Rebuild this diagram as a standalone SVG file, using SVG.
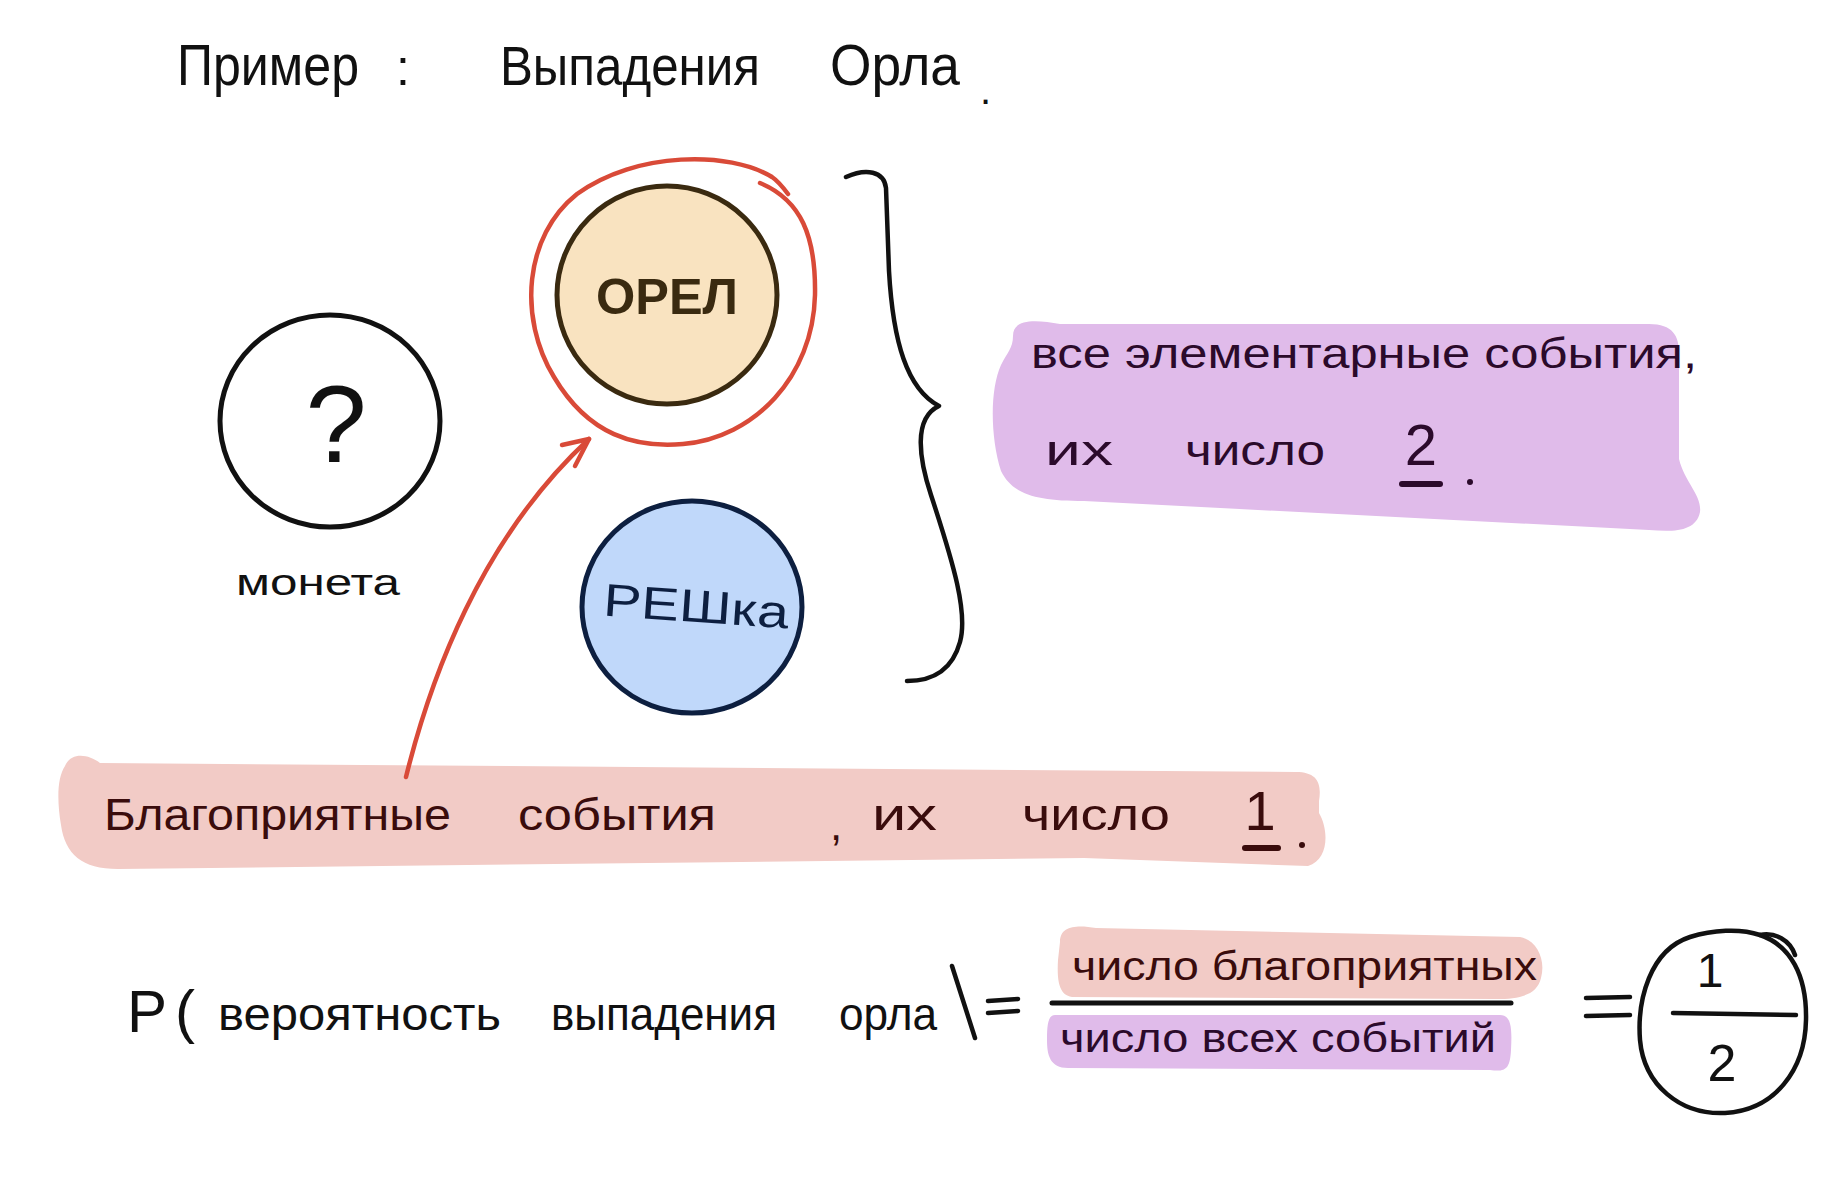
<svg xmlns="http://www.w3.org/2000/svg" width="1847" height="1204" viewBox="0 0 1847 1204">
<style>
.hw{font-family:"Liberation Sans","Noto Sans",sans-serif;fill:#111}
.pt{fill:#2b0a2b}
.rt{fill:#3a0c0c}
.coin{stroke-width:5;stroke-linecap:round}
.ink{fill:none;stroke:#111;stroke-width:4.5;stroke-linecap:round;stroke-linejoin:round}
.red{fill:none;stroke:#d94a38;stroke-width:4.5;stroke-linecap:round;stroke-linejoin:round}
</style>
<rect width="1847" height="1204" fill="#ffffff"/>

<g id="title">
<text class="hw" x="177" y="85" font-size="58" textLength="182" lengthAdjust="spacingAndGlyphs">Пример</text>
<text class="hw" x="396" y="85" font-size="50">:</text>
<text class="hw" x="500" y="85" font-size="56" textLength="260" lengthAdjust="spacingAndGlyphs">Выпадения</text>
<text class="hw" x="830" y="85" font-size="58" textLength="130" lengthAdjust="spacingAndGlyphs">Орла</text>
<text class="hw" x="980" y="104" font-size="40">.</text>
</g>

<g id="highlights">
<path d="M1013,336 C1013,318 1037,320 1060,324 L1649,324 C1673,324 1679,336 1679,353 L1679,459 C1685,483 1702,495 1700,512 C1696,532 1673,532 1649,530 L1084,501 C1037,501 1013,495 1001,471 C990,436 990,389 1001,365 C1007,353 1013,348 1013,336 Z" fill="#e0bbea"/>
<path d="M65,766 C71,752 88,754 100,763 L1296,772 C1317,772 1322,783 1319,801 L1319,813 C1329,830 1329,860 1308,866 L1084,858 L118,869 C82,869 65,854 61,825 C57,801 57,778 65,766 Z" fill="#f2cbc6"/>
<path d="M1060,942 C1060,925 1078,925 1096,928 L1520,937 C1537,940 1546,960 1541,978 C1537,995 1520,999 1496,999 L1072,997 C1058,995 1057,978 1058,960 Z" fill="#f2cbc6"/>
<path d="M1055,1015 L1500,1015 C1512,1015 1512,1030 1511,1050 C1510,1070 1505,1072 1490,1070 L1068,1068 C1050,1068 1047,1055 1047,1040 C1047,1025 1048,1015 1055,1015 Z" fill="#e0bbea"/>
</g>

<g id="coin">
<ellipse class="coin" cx="330" cy="421" rx="110" ry="106" fill="#ffffff" stroke="#111"/>
<text class="hw" x="336" y="462" font-size="110" text-anchor="middle">?</text>
<text class="hw" x="236" y="595" font-size="36" textLength="164" lengthAdjust="spacingAndGlyphs">монета</text>
</g>

<g id="orel">
<ellipse class="coin" cx="667" cy="295" rx="110" ry="109" fill="#f9e3c0" stroke="#3a2a10"/>
<text class="hw" x="667" y="314" font-size="50" font-weight="bold" text-anchor="middle" style="fill:#3a2a10" textLength="142" lengthAdjust="spacingAndGlyphs">ОРЕЛ</text>
</g>

<g id="reshka">
<ellipse class="coin" cx="692" cy="607" rx="110" ry="106" fill="#c0d8fa" stroke="#0d1f40"/>
<text class="hw" x="603" y="622" font-size="46" style="fill:#0d1f40" textLength="186" lengthAdjust="spacingAndGlyphs" transform="rotate(4 696 610)">РЕШка</text>
</g>

<g id="connectors">
<path class="red" d="M788,194 C782,186 778,181 772,177 C730,151 636,151 577,194 C524,236 518,318 554,377 C589,436 636,448 683,444 C754,438 813,377 815,295 C816,236 801,200 760,183"/>
<path class="red" d="M406,777 C430,680 480,540 589,439"/>
<path class="red" d="M562,445 L589,439 L575,466"/>
<path class="ink" d="M846,177 C866,168 884,171 886,188 L889,271 C893,342 907,389 939,406 C913,418 919,459 931,495 C954,565 968,613 960,642 C952,671 931,681 907,681"/>
</g>

<g id="all-events">
<text class="hw pt" x="1031" y="368" font-size="42" textLength="666" lengthAdjust="spacingAndGlyphs">все элементарные события,</text>
<text class="hw pt" x="1045" y="465" font-size="42" textLength="68" lengthAdjust="spacingAndGlyphs">их</text>
<text class="hw pt" x="1185" y="465" font-size="42" textLength="140" lengthAdjust="spacingAndGlyphs">число</text>
<text class="hw pt" x="1421" y="465" font-size="58" text-anchor="middle">2</text>
<path d="M1402,484 L1440,484" stroke="#2b0a2b" stroke-width="6" stroke-linecap="round"/>
<circle cx="1470" cy="482" r="3" fill="#2b0a2b"/>
</g>

<g id="favorable">
<text class="hw rt" x="104" y="830" font-size="44" textLength="347" lengthAdjust="spacingAndGlyphs">Благоприятные</text>
<text class="hw rt" x="518" y="830" font-size="44" textLength="198" lengthAdjust="spacingAndGlyphs">события</text>
<text class="hw rt" x="830" y="840" font-size="44">,</text>
<text class="hw rt" x="872" y="830" font-size="44" textLength="65" lengthAdjust="spacingAndGlyphs">их</text>
<text class="hw rt" x="1022" y="830" font-size="44" textLength="148" lengthAdjust="spacingAndGlyphs">число</text>
<text class="hw rt" x="1260" y="830" font-size="56" text-anchor="middle">1</text>
<path d="M1245,848 L1278,848" stroke="#3a0c0c" stroke-width="6" stroke-linecap="round"/>
<circle cx="1302" cy="845" r="3" fill="#3a0c0c"/>
</g>

<g id="formula">
<text class="hw" x="127" y="1032" font-size="60" letter-spacing="8">P(</text>
<text class="hw" x="218" y="1030" font-size="46" textLength="283" lengthAdjust="spacingAndGlyphs">вероятность</text>
<text class="hw" x="551" y="1030" font-size="46" textLength="226" lengthAdjust="spacingAndGlyphs">выпадения</text>
<text class="hw" x="839" y="1030" font-size="46" textLength="98" lengthAdjust="spacingAndGlyphs">орла</text>
<path class="ink" d="M952,966 L975,1038"/>
<path class="ink" d="M988,1001 L1018,999 M988,1013 L1018,1011"/>
<text class="hw rt" x="1072" y="980" font-size="40" textLength="465" lengthAdjust="spacingAndGlyphs">число благоприятных</text>
<path d="M1052,1003 L1511,1003" stroke="#111" stroke-width="5" stroke-linecap="round"/>
<text class="hw pt" x="1060" y="1052" font-size="40" textLength="436" lengthAdjust="spacingAndGlyphs">число всех событий</text>
<path class="ink" d="M1586,998 L1630,997 M1586,1016 L1630,1015"/>
</g>

<g id="result">
<path class="ink" d="M1690,937 C1650,950 1637,1000 1640,1040 C1644,1085 1680,1115 1725,1113 C1775,1110 1805,1070 1806,1020 C1807,975 1790,945 1760,935 C1740,928 1712,930 1690,937 Z"/>
<path class="ink" d="M1760,935 C1775,932 1790,940 1795,955"/>
<text class="hw" x="1710" y="987" font-size="48" text-anchor="middle">1</text>
<path class="ink" d="M1673,1013 L1796,1015"/>
<text class="hw" x="1722" y="1081" font-size="52" text-anchor="middle">2</text>
</g>
</svg>
